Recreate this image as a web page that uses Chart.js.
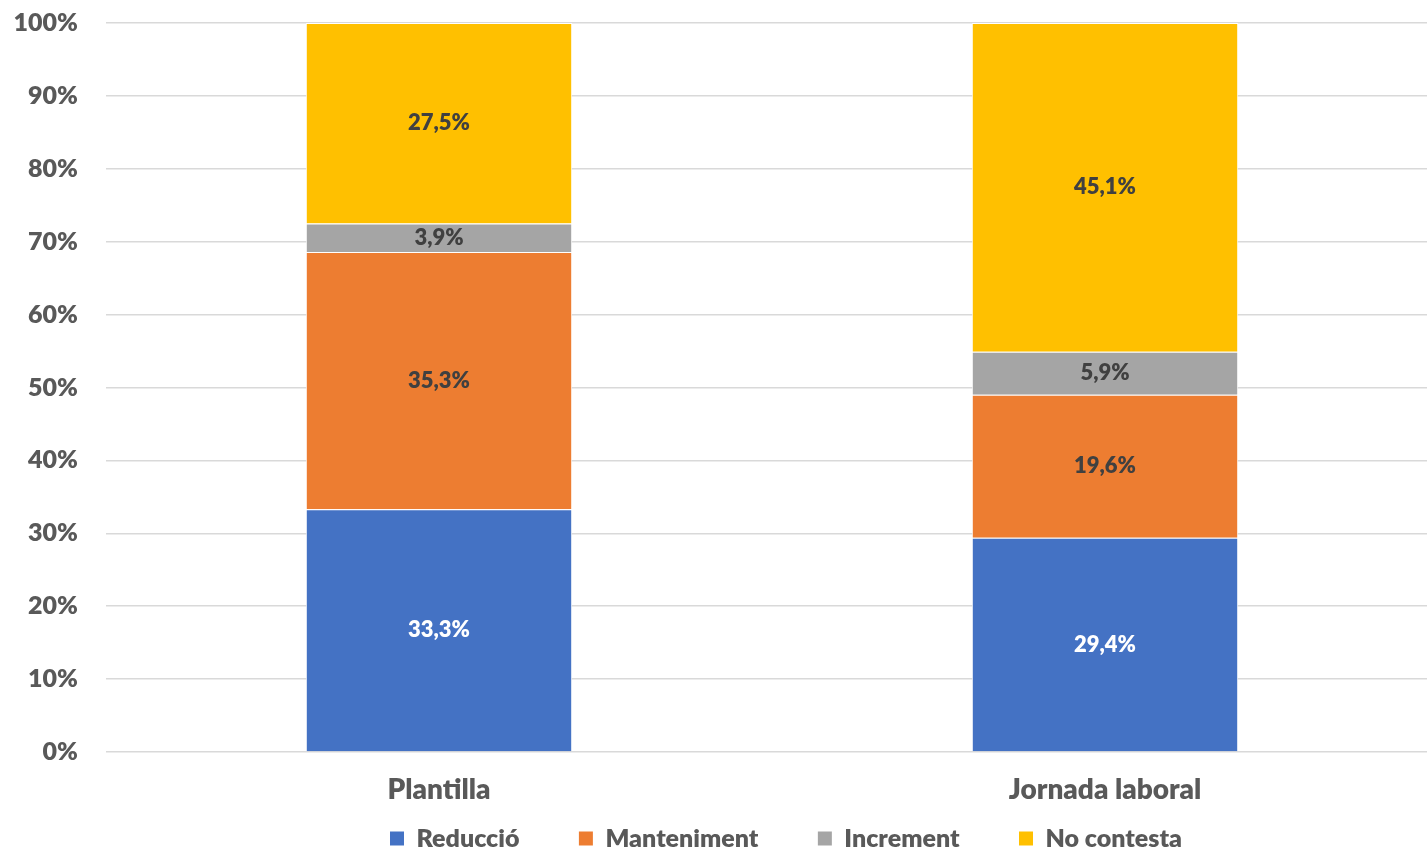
<!DOCTYPE html>
<html>
<head>
<meta charset="utf-8">
<script src="https://cdn.jsdelivr.net/npm/chart.js@4"></script>
<style>
  html, body { margin: 0; background: #fff; overflow: hidden; }
  /* plot runs slightly past the right edge, as in the original */
  #wrap { width: 1438px; height: 849px; }
</style>
</head>
<body>
<div id="wrap"><canvas id="chart"></canvas></div>
<script>
const categories = ['Plantilla', 'Jornada laboral'];
const reduccio = [33.3, 29.4];
const manteniment = [35.3, 19.6];
const increment = [3.9, 5.9];
const noContesta = [27.5, 45.1];
const yTicks = [0, 10, 20, 30, 40, 50, 60, 70, 80, 90, 100];

const FONT = 'Lato, "Noto Sans", sans-serif';
const WEIGHT = 800;
const LEGEND_FONT = WEIGHT + ' 25px ' + FONT;

// draw the value inside each bar segment
const segmentLabels = {
    id: 'segmentLabels',
    afterDatasetsDraw(chart) {
        const ctx = chart.ctx;
        ctx.save();
        ctx.font = WEIGHT + ' 22px ' + FONT;
        ctx.textAlign = 'center';
        ctx.textBaseline = 'middle';
        chart.data.datasets.forEach((ds, i) => {
            const meta = chart.getDatasetMeta(i);
            meta.data.forEach((bar, j) => {
                const v = ds.data[j];
                ctx.fillStyle = i === 0 ? '#ffffff' : '#404040';
                ctx.fillText(v.toFixed(1).replace('.', ',') + '%', bar.x, (bar.y + bar.base) / 2);
            });
        });
        ctx.restore();
    }
};

// nudge the legend row a bit to the right
const legendShift = {
    id: 'legendShift',
    afterLayout(chart) {
        if (chart.legend) {
            chart.legend.left += 14;
            chart.legend.right += 14;
        }
    }
};

// legend items sit far apart: pad the text with spaces (not the last one)
const measureCtx = document.createElement('canvas').getContext('2d');
measureCtx.font = LEGEND_FONT;
const spaceW = measureCtx.measureText(' ').width || 5;
const gapSpaces = ' '.repeat(Math.round(40 / spaceW));

const barOpts = { borderColor: '#ffffff', borderWidth: 1, barPercentage: 1, categoryPercentage: 0.4 };

new Chart(document.getElementById('chart'), {
    type: 'bar',
    data: {
        labels: categories,
        datasets: [
            { label: 'Reducció', data: reduccio, backgroundColor: '#4472c4', ...barOpts },
            { label: 'Manteniment', data: manteniment, backgroundColor: '#ed7d31', ...barOpts },
            { label: 'Increment', data: increment, backgroundColor: '#a5a5a5', ...barOpts },
            { label: 'No contesta', data: noContesta, backgroundColor: '#ffc000', ...barOpts }
        ]
    },
    options: {
        responsive: true,
        maintainAspectRatio: false,
        animation: false,
        layout: { padding: { top: 0, right: 0, left: 14, bottom: 0 } },
        plugins: {
            tooltip: { enabled: false },
            legend: {
                position: 'bottom',
                fullSize: false,
                maxHeight: 42,
                labels: {
                    boxWidth: 14,
                    boxHeight: 14,
                    padding: 19,
                    color: '#595959',
                    font: { family: FONT, size: 25, weight: WEIGHT },
                    generateLabels: chart => {
                        const items = Chart.defaults.plugins.legend.labels.generateLabels(chart);
                        items.forEach((it, i) => {
                            it.lineWidth = 0;
                            if (i < items.length - 1) it.text += gapSpaces;
                        });
                        return items;
                    }
                }
            }
        },
        scales: {
            x: {
                stacked: true,
                grid: { display: false, drawTicks: false },
                border: { display: false },
                afterFit: axis => { axis.height = 55; },
                ticks: {
                    color: '#595959',
                    padding: 21,
                    font: { family: FONT, size: 28, weight: WEIGHT }
                }
            },
            y: {
                stacked: true,
                min: 0,
                max: 100,
                afterBuildTicks: axis => { axis.ticks = yTicks.map(v => ({ value: v })); },
                afterFit: axis => {
                    axis.width = 92;
                    axis.paddingTop = 23;
                    axis.paddingBottom = 0;
                },
                grid: { color: '#d9d9d9', lineWidth: 1.5, drawTicks: false },
                border: { display: false },
                ticks: {
                    color: '#595959',
                    padding: 28,
                    font: { family: FONT, size: 25, weight: WEIGHT },
                    callback: v => v + '%'
                }
            }
        }
    },
    plugins: [segmentLabels, legendShift]
});
</script>
</body>
</html>
